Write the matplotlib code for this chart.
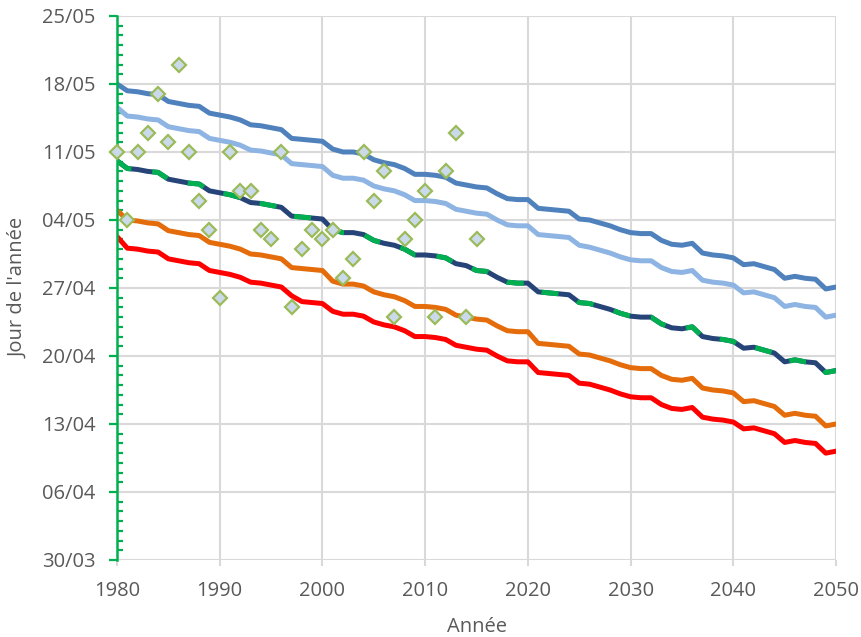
import datetime
import matplotlib
matplotlib.use('Agg')
import matplotlib.pyplot as plt
from matplotlib.ticker import FixedLocator, MultipleLocator, FuncFormatter
import numpy as np

plt.rcParams['font.family'] = ['Open Sans', 'DejaVu Sans']

# day of year (1 = 1st January), one value per year from 1980 to 2050
years = np.arange(1980, 2051)

serie_haute = [
    138.0, 137.3, 137.2, 137.0, 136.9, 136.2, 136.0, 135.8, 135.7, 135.0,
    134.8, 134.6, 134.3, 133.8, 133.7, 133.5, 133.3, 132.4, 132.3, 132.2,
    132.1, 131.3, 131.0, 131.0, 130.8, 130.2, 129.9, 129.7, 129.3, 128.7,
    128.7, 128.6, 128.4, 127.8, 127.6, 127.4, 127.3, 126.7, 126.2, 126.1,
    126.1, 125.2, 125.1, 125.0, 124.9, 124.1, 124.0, 123.7, 123.4, 123.0,
    122.7, 122.6, 122.6, 121.9, 121.5, 121.4, 121.6, 120.6, 120.4, 120.3,
    120.1, 119.4, 119.5, 119.2, 118.9, 118.0, 118.2, 118.0, 117.9, 116.9,
    117.1]

serie_claire = [
    135.6, 134.7, 134.6, 134.4, 134.3, 133.6, 133.4, 133.2, 133.1, 132.4,
    132.2, 132.0, 131.7, 131.2, 131.1, 130.9, 130.7, 129.8, 129.7, 129.6,
    129.5, 128.6, 128.3, 128.3, 128.1, 127.5, 127.2, 127.0, 126.6, 126.0,
    126.0, 125.9, 125.7, 125.1, 124.9, 124.7, 124.6, 124.0, 123.5, 123.4,
    123.4, 122.5, 122.4, 122.3, 122.2, 121.4, 121.2, 120.9, 120.6, 120.2,
    119.9, 119.8, 119.8, 119.1, 118.7, 118.6, 118.8, 117.8, 117.6, 117.5,
    117.3, 116.5, 116.6, 116.3, 116.0, 115.1, 115.3, 115.1, 115.0, 114.0,
    114.2]

serie_mediane = [
    130.1, 129.3, 129.2, 129.0, 128.9, 128.2, 128.0, 127.8, 127.7, 127.0,
    126.8, 126.6, 126.3, 125.8, 125.7, 125.5, 125.3, 124.4, 124.3, 124.2,
    124.1, 123.0, 122.7, 122.7, 122.5, 121.9, 121.6, 121.4, 121.0, 120.4,
    120.4, 120.3, 120.1, 119.5, 119.3, 118.8, 118.7, 118.1, 117.6, 117.5,
    117.5, 116.6, 116.5, 116.4, 116.3, 115.5, 115.4, 115.1, 114.8, 114.4,
    114.1, 114.0, 114.0, 113.3, 112.9, 112.8, 113.0, 112.0, 111.8, 111.7,
    111.5, 110.8, 110.9, 110.6, 110.3, 109.4, 109.6, 109.4, 109.3, 108.3,
    108.5]

serie_orange = [
    125.0, 124.0, 123.9, 123.7, 123.6, 122.9, 122.7, 122.5, 122.4, 121.7,
    121.5, 121.3, 121.0, 120.5, 120.4, 120.2, 120.0, 119.1, 119.0, 118.9,
    118.8, 117.7, 117.4, 117.4, 117.2, 116.6, 116.3, 116.1, 115.7, 115.1,
    115.1, 115.0, 114.8, 114.2, 114.0, 113.8, 113.7, 113.1, 112.6, 112.5,
    112.5, 111.3, 111.2, 111.1, 111.0, 110.2, 110.1, 109.8, 109.5, 109.1,
    108.8, 108.7, 108.7, 108.0, 107.6, 107.5, 107.7, 106.7, 106.5, 106.4,
    106.2, 105.3, 105.4, 105.1, 104.8, 103.9, 104.1, 103.9, 103.8, 102.8,
    103.0]

serie_rouge = [
    122.3, 121.1, 121.0, 120.8, 120.7, 120.0, 119.8, 119.6, 119.5, 118.8,
    118.6, 118.4, 118.1, 117.6, 117.5, 117.3, 117.1, 116.2, 115.6, 115.5,
    115.4, 114.6, 114.3, 114.3, 114.1, 113.5, 113.2, 113.0, 112.6, 112.0,
    112.0, 111.9, 111.7, 111.1, 110.9, 110.7, 110.6, 110.0, 109.5, 109.4,
    109.4, 108.3, 108.2, 108.1, 108.0, 107.2, 107.1, 106.8, 106.5, 106.1,
    105.8, 105.7, 105.7, 105.0, 104.6, 104.5, 104.7, 103.7, 103.5, 103.4,
    103.2, 102.5, 102.6, 102.3, 102.0, 101.1, 101.3, 101.1, 101.0, 100.0,
    100.2]

# observed dates, 1980-2015
obs_years = np.arange(1980, 2016)
obs_days = [131, 124, 131, 133, 137, 132, 140, 131, 126, 123,
            116, 131, 127, 127, 123, 122, 131, 115, 121, 123,
            122, 123, 118, 120, 131, 126, 129, 114, 122, 124,
            127, 114, 129, 133, 114, 122]

y_ticks = [89, 96, 103, 110, 117, 124, 131, 138, 145]
x_ticks = [1980, 1990, 2000, 2010, 2020, 2030, 2040, 2050]


def day_label(v, pos):
    d = datetime.date(2019, 1, 1) + datetime.timedelta(days=int(round(v)) - 1)
    return d.strftime('%d/%m')


fig = plt.figure(figsize=(8.61, 6.37), dpi=100)
ax = fig.add_axes([0.1359, 0.1209, 0.8351, 0.854])

grid_c = '#D9D9D9'
txt_c = '#595959'
green = '#00B050'
lw = 3.6
line_kw = dict(lw=lw, zorder=3, solid_joinstyle='round', solid_capstyle='round')

ax.plot(years, serie_haute, color='#4F81BD', **line_kw)
ax.plot(years, serie_claire, color='#8DB4E2', **line_kw)
ax.plot(years, serie_mediane, color='#264478', **line_kw)
ax.plot(years, serie_mediane, color=green, lw=lw, zorder=3.1,
        dashes=(3.4, 4.2), dash_capstyle='butt', dash_joinstyle='round')
ax.plot(years, serie_orange, color='#E46C0A', **line_kw)
ax.plot(years, serie_rouge, color='#FF0000', **line_kw)

ax.plot(obs_years, obs_days, linestyle='none', marker='D', ms=7.5,
        mfc='#CBDAEB', mec='#9BBB59', mew=1.6, zorder=5, clip_on=False)

ax.set_xlim(1980, 2050)
ax.set_ylim(89, 145)

ax.xaxis.set_major_locator(FixedLocator(x_ticks))
ax.yaxis.set_major_locator(FixedLocator(y_ticks))
ax.yaxis.set_minor_locator(MultipleLocator(1))
ax.yaxis.set_major_formatter(FuncFormatter(day_label))

ax.grid(True, which='major', color=grid_c, lw=1.5, zorder=0)
ax.set_axisbelow(True)

for side in ['top', 'right', 'bottom']:
    ax.spines[side].set_visible(False)
ax.spines['left'].set_color(green)
ax.spines['left'].set_linewidth(1.8)
ax.spines['left'].set_zorder(4)

ax.tick_params(axis='y', which='major', direction='out', length=5.5,
               width=1.6, color=green, labelsize=14.5, labelcolor=txt_c, pad=10)
ax.tick_params(axis='y', which='minor', direction='in', length=4.5,
               width=1.6, color=green)
ax.tick_params(axis='x', which='major', direction='out', length=4,
               width=1.5, color=grid_c, labelsize=14.5, labelcolor=txt_c, pad=11)

ax.set_xlabel('Année', fontsize=14.5, color=txt_c, labelpad=12)
ax.set_ylabel("Jour de l'année", fontsize=14.5, color=txt_c, labelpad=10)

fig.savefig('out.png', dpi=100)
